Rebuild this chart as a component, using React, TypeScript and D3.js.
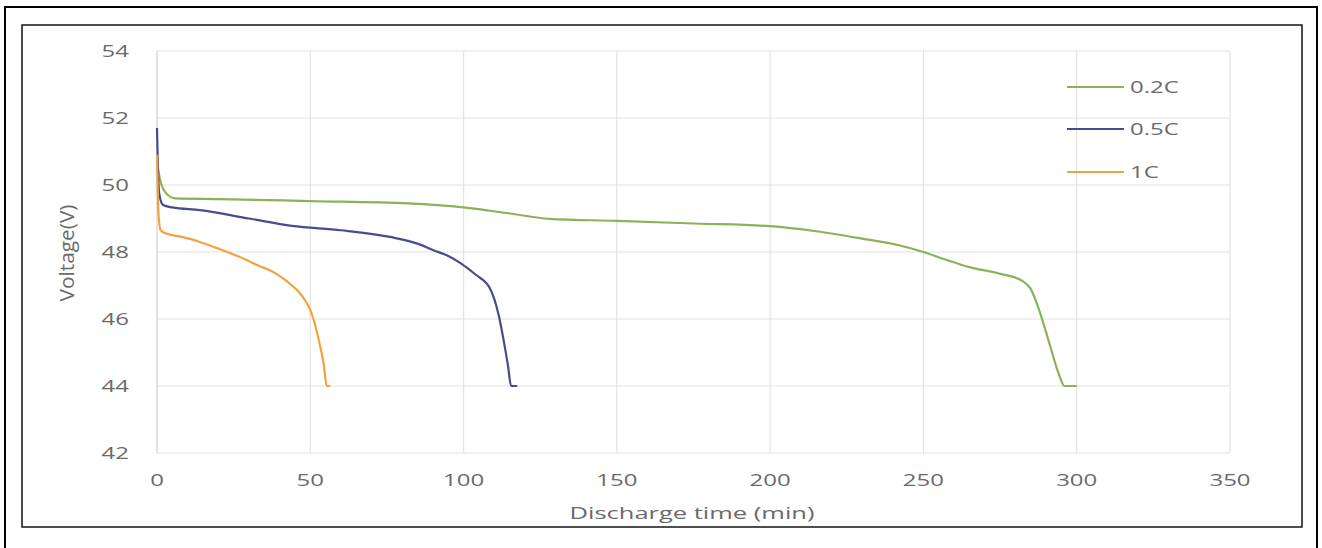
import React from "react";
import * as d3 from "d3";

const xTicks = [0, 50, 100, 150, 200, 250, 300, 350];
const yTicks = [42, 44, 46, 48, 50, 52, 54];

const seriesNames = ["0.2C", "0.5C", "1C"];
const seriesColors = ["#8ab25a", "#4a4a8e", "#f3a23f"];

const t02 = [0, 0.5, 1.5, 3, 6, 20, 50, 82, 100, 115, 128, 150, 175, 200, 215, 230, 242, 250, 258, 265, 275, 282, 285, 288, 291, 294, 296, 300];
const v02 = [50.8, 50.4, 50.0, 49.75, 49.6, 49.58, 49.52, 49.45, 49.33, 49.15, 48.99, 48.93, 48.85, 48.77, 48.62, 48.4, 48.2, 48.0, 47.75, 47.55, 47.35, 47.15, 46.9, 46.2, 45.3, 44.4, 44.0, 44.0];

const t05 = [0, 0.3, 0.8, 2, 5, 14, 30, 44, 60, 76, 85, 90, 95, 99, 104, 108.5, 110, 111.5, 113, 114.5, 115.5, 117.5];
const v05 = [51.7, 50.5, 49.7, 49.4, 49.33, 49.25, 49.0, 48.78, 48.65, 48.45, 48.25, 48.06, 47.88, 47.67, 47.32, 46.93, 46.6, 46.1, 45.4, 44.6, 44.0, 44.0];

const t1 = [0, 0.2, 0.6, 1.2, 3, 8, 14, 20, 27, 33, 38, 42, 45.6, 48, 50, 51.5, 53, 54.3, 55.4, 56.5];
const v1 = [50.9, 50.0, 49.0, 48.65, 48.55, 48.45, 48.3, 48.1, 47.85, 47.6, 47.4, 47.15, 46.87, 46.6, 46.27, 45.85, 45.28, 44.7, 44.0, 44.0];

const seriesT = [t02, t05, t1];
const seriesV = [v02, v05, v1];

const W = 1322;
const H = 548;
const SX = 1.5;
const textColor = "#6a6a6a";
const font = "'Open Sans', 'Noto Sans', sans-serif";

export default function App() {
  const x = d3.scaleLinear().domain([0, 350]).range([157, 1230]);
  const y = d3.scaleLinear().domain([42, 54]).range([453, 51]);
  const line = d3
    .line<[number, number]>()
    .x((d) => x(d[0]))
    .y((d) => y(d[1]))
    .curve(d3.curveMonotoneX);

  const legendY = [87, 129, 172];

  return (
    <svg
      width={W}
      height={H}
      style={{ position: "absolute", left: 0, top: 0, display: "block", background: "#fff" }}
    >
      <rect x={0} y={0} width={W} height={H} fill="#fff" />
      <rect x={5} y={7} width={1312} height={560} fill="none" stroke="#000" strokeWidth={2} />
      <rect x={22} y={25} width={1280} height={502} fill="none" stroke="#222" strokeWidth={1.6} />

      {yTicks.map((t) => (
        <line key={"gy" + t} x1={x(0)} x2={x(350)} y1={y(t)} y2={y(t)} stroke="#e2e2e2" strokeWidth={1.2} />
      ))}
      {xTicks.map((t) => (
        <line
          key={"gx" + t}
          x1={x(t)}
          x2={x(t)}
          y1={y(42)}
          y2={y(54)}
          stroke={t === 0 ? "#d0d0d0" : "#e2e2e2"}
          strokeWidth={1.2}
        />
      ))}

      {yTicks.map((t) => (
        <text
          key={"ty" + t}
          transform={`translate(129,${y(t)}) scale(${SX},1)`}
          textAnchor="end"
          dominantBaseline="central"
          fontFamily={font}
          fontSize={16}
          fill={textColor}
        >
          {t}
        </text>
      ))}

      {xTicks.map((t) => (
        <text
          key={"tx" + t}
          transform={`translate(${x(t)},480) scale(${SX},1)`}
          textAnchor="middle"
          dominantBaseline="central"
          fontFamily={font}
          fontSize={16}
          fill={textColor}
        >
          {t}
        </text>
      ))}

      <text
        transform={`translate(692,512) scale(${SX},1)`}
        textAnchor="middle"
        dominantBaseline="central"
        fontFamily={font}
        fontSize={17}
        fill={textColor}
      >
        Discharge time (min)
      </text>
      <text
        transform={`translate(66,253) scale(${SX},1) rotate(-90)`}
        textAnchor="middle"
        dominantBaseline="central"
        fontFamily={font}
        fontSize={13}
        fill={textColor}
        textLength={97}
        lengthAdjust="spacingAndGlyphs"
      >
        Voltage(V)
      </text>

      {seriesNames.map((name, i) => {
        const pts = seriesT[i].map((t, j) => [t, seriesV[i][j]] as [number, number]);
        return (
          <path
            key={name}
            d={line(pts) || ""}
            fill="none"
            stroke={seriesColors[i]}
            strokeWidth={2.2}
            strokeLinejoin="round"
          />
        );
      })}

      {seriesNames.map((name, i) => (
        <g key={"lg" + name}>
          <line x1={1067} x2={1124} y1={legendY[i]} y2={legendY[i]} stroke={seriesColors[i]} strokeWidth={2.2} />
          <text
            transform={`translate(1130,${legendY[i]}) scale(${SX},1)`}
            dominantBaseline="central"
            fontFamily={font}
            fontSize={16}
            fill={textColor}
          >
            {name}
          </text>
        </g>
      ))}
    </svg>
  );
}
